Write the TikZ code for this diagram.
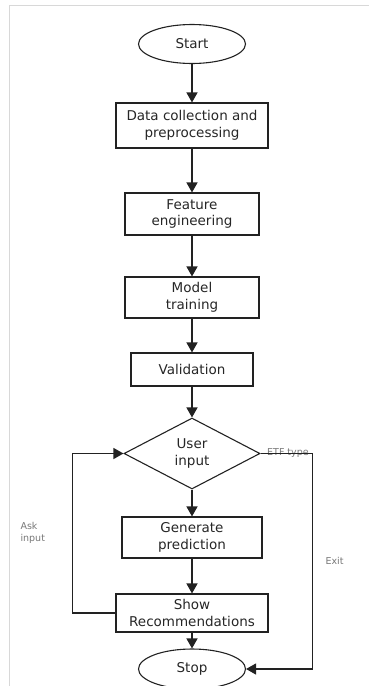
\documentclass[tikz,border=0pt]{standalone}
\usepackage{fontspec}
\setmainfont{DejaVu Sans}
\usepackage{xcolor}
\usepackage{tikz}
\usetikzlibrary{arrows.meta}
\usetikzlibrary{positioning}
\usetikzlibrary{shapes.geometric}

\definecolor{linegray}{HTML}{222222}
\definecolor{labelgray}{HTML}{777777}
\definecolor{framegray}{HTML}{D8D8D8}

\begin{document}
\begin{tikzpicture}[>={Triangle[width=11pt,length=10pt]}, x=1pt, y=1pt, line width=1.3pt]
    \tikzstyle{every node}=[font=\fontsize{13.5}{16.5}\selectfont, text=black!85, align=center]
    \tikzstyle{terminal}=[ellipse, draw=linegray, line width=1.1pt, minimum width=107pt, minimum height=39pt, inner sep=0pt]
    \tikzstyle{stepbox}=[rectangle, draw=linegray, line width=1.1pt, inner sep=0pt]
    \tikzstyle{choice}=[diamond, draw=linegray, line width=1.1pt, minimum width=136pt, minimum height=71pt, inner sep=0pt]
    \tikzstyle{flow}=[->, draw=linegray]
    \tikzstyle{lbl}=[font=\fontsize{9.5}{12}\selectfont, text=labelgray, align=left]

    \useasboundingbox (0,0) rectangle (369,-686);
    \draw[framegray, line width=0.8pt] (9,-686) -- (9,-5) -- (369,-5);

    \node (start) [terminal] at (192,-44) {Start};
    \node (data) [stepbox, minimum width=152pt, minimum height=45pt, below of=start, node distance=81.5pt] {Data collection and\\preprocessing};
    \node (feature) [stepbox, minimum width=134pt, minimum height=42pt, below of=data, node distance=88.5pt] {Feature\\engineering};
    \node (model) [stepbox, minimum width=134pt, minimum height=41pt, below of=feature, node distance=83.5pt] {Model\\training};
    \node (valid) [stepbox, minimum width=122pt, minimum height=33pt, below of=model, node distance=72pt] {Validation};
    \node (user) [choice, below of=valid, node distance=84pt] {User\\input};
    \node (predict) [stepbox, minimum width=140pt, minimum height=41pt, below of=user, node distance=84pt] {Generate\\prediction};
    \node (show) [stepbox, minimum width=152pt, minimum height=38pt, below of=predict, node distance=75.5pt] {Show\\Recommendations};
    \node (stop) [terminal, minimum height=40pt, below of=show, node distance=56pt] {Stop};

    \draw[flow] (start) -- (data);
    \draw[flow] (data) -- (feature);
    \draw[flow] (feature) -- (model);
    \draw[flow] (model) -- (valid);
    \draw[flow] (valid) -- (user);
    \draw[flow] (user) -- (predict);
    \draw[flow] (predict) -- (show);
    \draw[flow] (show) -- (stop);

    % loop back for a new input
    \draw[flow] (show.west) -- ++(-43,0) |- node[lbl, pos=0.25, left=23.5pt] (ask) {Ask\\input} (user.west);
    % leave the loop
    \node (etf) [lbl, anchor=west, inner sep=0pt] at ([xshift=6pt]user.east) {ETF type};
    \draw[flow] (user.east) -- ++(52,0) |- node[lbl, pos=0.25, right=9pt] (exit) {Exit} (stop.east);
\end{tikzpicture}
\end{document}
